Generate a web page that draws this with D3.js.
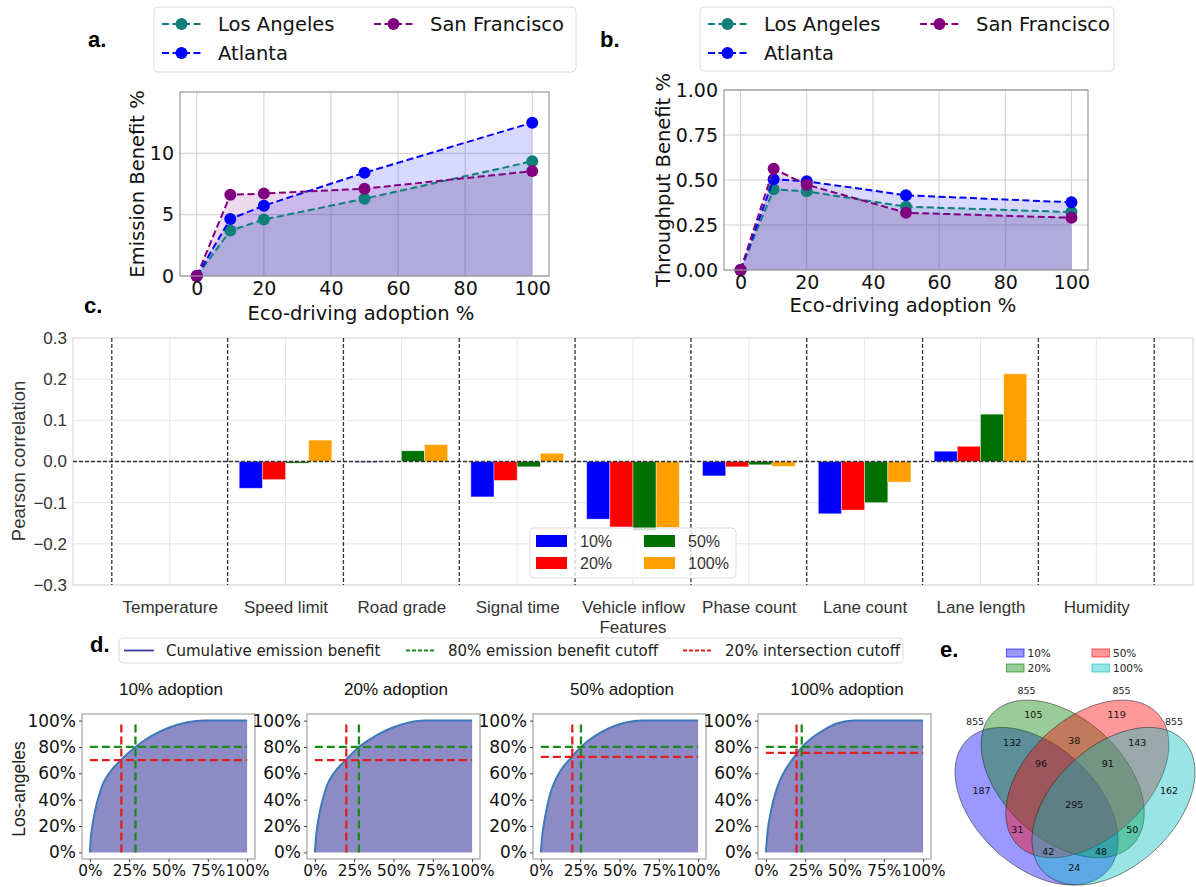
<!DOCTYPE html>
<html><head><meta charset="utf-8">
<script src="https://cdn.jsdelivr.net/npm/d3@7"></script>
<style>body{margin:0;background:#fff} svg{display:block}</style>
</head><body><svg id="c" width="1196" height="887"></svg>
<script>
// ---------------- DATA ----------------
const adoption = [0, 10, 20, 50, 100];
const adoptionTicks = [0, 20, 40, 60, 80, 100];
const cities = ["Los Angeles", "Atlanta", "San Francisco"];
const cityColors = ["#0f7f7a", "#0000ff", "#800080"];
const emissionLA  = [0, 3.7, 4.6, 6.3, 9.35];
const emissionATL = [0, 4.65, 5.73, 8.42, 12.5];
const emissionSF  = [0, 6.62, 6.72, 7.12, 8.55];
const emissionTicks = [0, 5, 10];
const throughputLA  = [0, 0.448, 0.437, 0.352, 0.322];
const throughputATL = [0, 0.504, 0.493, 0.415, 0.376];
const throughputSF  = [0, 0.562, 0.474, 0.318, 0.29];
const throughputTicks = [0, 0.25, 0.5, 0.75, 1.0];

const features = ["Temperature", "Speed limit", "Road grade", "Signal time", "Vehicle inflow", "Phase count", "Lane count", "Lane length", "Humidity"];
const levels = ["10%", "20%", "50%", "100%"];
const levelColors = ["#0000ff", "#ff0000", "#007000", "#ffa000"];
const corr10  = [null, -0.065, -0.002, -0.086, -0.140, -0.035, -0.127, 0.025, null];
const corr20  = [null, -0.044, -0.001, -0.046, -0.159, -0.013, -0.118, 0.037, null];
const corr50  = [null, -0.004,  0.026, -0.013, -0.168, -0.008, -0.100, 0.115, null];
const corr100 = [null,  0.052,  0.041,  0.020, -0.160, -0.012, -0.050, 0.213, null];
const corrTicks = [-0.3, -0.2, -0.1, 0, 0.1, 0.2, 0.3];

const cumTitles = ["10% adoption", "20% adoption", "50% adoption", "100% adoption"];
const cumTicks = [0, 0.25, 0.5, 0.75, 1.0];
const cumYTicks = [0, 0.2, 0.4, 0.6, 0.8, 1.0];
const curve10  = [[0,0],[0.006,0.106],[0.017,0.21],[0.032,0.31],[0.053,0.41],[0.08,0.51],[0.123,0.60],[0.196,0.70],[0.29,0.80],[0.387,0.88],[0.49,0.94],[0.62,0.987],[0.725,1.0],[1.0,1.0]];
const curve20  = [[0,0],[0.006,0.1],[0.017,0.21],[0.032,0.31],[0.052,0.41],[0.078,0.51],[0.12,0.60],[0.195,0.70],[0.28,0.80],[0.38,0.88],[0.48,0.94],[0.6,0.985],[0.7,1.0],[1.0,1.0]];
const curve50  = [[0,0],[0.008,0.12],[0.02,0.22],[0.035,0.32],[0.056,0.43],[0.085,0.53],[0.125,0.62],[0.197,0.725],[0.255,0.80],[0.34,0.88],[0.43,0.94],[0.54,0.985],[0.64,1.0],[1.0,1.0]];
const curve100 = [[0,0],[0.011,0.157],[0.032,0.31],[0.063,0.46],[0.106,0.587],[0.159,0.689],[0.197,0.752],[0.228,0.797],[0.29,0.866],[0.37,0.93],[0.455,0.98],[0.56,1.0],[1.0,1.0]];
const cumCurves = [curve10, curve20, curve50, curve100];
const redCutX   = [0.2, 0.2, 0.2, 0.195];
const redCutY   = [0.70, 0.70, 0.725, 0.755];
const greenCutX = [0.29, 0.28, 0.255, 0.228];
const greenCutY = [0.8, 0.8, 0.8, 0.8];
const cumLegend = ["Cumulative emission benefit", "80% emission benefit cutoff", "20% intersection cutoff"];

const vennSets = ["10%", "20%", "50%", "100%"];
const vennColors = ["#0000ff", "#008000", "#ff0000", "#00bfbf"];
const vennSetSizes = [855, 855, 855, 855];
const vennRegions = ["1000","0100","0010","0001","1100","0110","0011","1110","0111","1111","1010","0101","1011","1101","1001"];
const vennCounts  = [187, 105, 119, 162, 132, 38, 143, 96, 91, 295, 31, 50, 42, 48, 24];

// ---------------- LAYOUT ----------------
const vennRegionPos = [[0.14,0.459],[0.338,0.735],[0.656,0.735],[0.856,0.459],[0.257,0.633],[0.494,0.64],[0.735,0.633],[0.367,0.557],[0.622,0.557],[0.494,0.407],[0.277,0.315],[0.716,0.315],[0.395,0.233],[0.596,0.233],[0.494,0.175]];
const vennSizePos = [[0.115,0.71],[0.312,0.822],[0.675,0.822],[0.875,0.71]];
const vennEllipses = [[0.35,0.4,140],[0.45,0.5,140],[0.544,0.5,40],[0.644,0.4,40]];

const svg = d3.select("#c");
svg.append("rect").attr("width", 1196).attr("height", 887).attr("fill", "#fff");

const DJ = "DejaVu Sans, sans-serif";
const AR = "Liberation Sans, Arial, sans-serif";

// panel letters
[["a.",88,47],["b.",600,47],["c.",84,313],["d.",90,652],["e.",940,657]].forEach(p => {
  svg.append("text").attr("x", p[1]).attr("y", p[2]).text(p[0])
    .attr("font-family", AR).attr("font-weight", "bold").attr("font-size", 22).attr("fill", "#000");
});

// ---------------- PANELS a / b ----------------
function linePanel(cfg) {
  const g = svg.append("g");
  const x = d3.scaleLinear().domain([-5, 105]).range([cfg.x0, cfg.x1]);
  const y = d3.scaleLinear().domain(cfg.ydom).range([cfg.y1, cfg.y0]);
  g.append("g").selectAll("line").data(adoptionTicks).join("line")
    .attr("x1", d => x(d)).attr("x2", d => x(d)).attr("y1", cfg.y0).attr("y2", cfg.y1)
    .attr("stroke", "#d0d0d0").attr("stroke-width", 1);
  g.append("g").selectAll("line").data(cfg.yticks).join("line")
    .attr("x1", cfg.x0).attr("x2", cfg.x1).attr("y1", d => y(d)).attr("y2", d => y(d))
    .attr("stroke", "#d0d0d0").attr("stroke-width", 1);
  cfg.series.forEach((s, i) => {
    const pts = adoption.map((a, j) => [a, s[j]]);
    g.append("path").datum(pts)
      .attr("d", d3.area().x(d => x(d[0])).y0(y(0)).y1(d => y(d[1])))
      .attr("fill", cityColors[i]).attr("fill-opacity", 0.15);
  });
  cfg.series.forEach((s, i) => {
    const pts = adoption.map((a, j) => [a, s[j]]);
    g.append("path").datum(pts)
      .attr("d", d3.line().x(d => x(d[0])).y(d => y(d[1])))
      .attr("fill", "none").attr("stroke", cityColors[i]).attr("stroke-width", 2)
      .attr("stroke-dasharray", "7,3.5");
    g.append("g").selectAll("circle").data(pts).join("circle")
      .attr("cx", d => x(d[0])).attr("cy", d => y(d[1])).attr("r", 6)
      .attr("fill", cityColors[i]);
  });
  g.append("rect").attr("x", cfg.x0).attr("y", cfg.y0).attr("width", cfg.x1 - cfg.x0).attr("height", cfg.y1 - cfg.y0)
    .attr("fill", "none").attr("stroke", "#999").attr("stroke-width", 1.2);
  const ax = g.append("g").attr("transform", `translate(0,${cfg.y1})`)
    .call(d3.axisBottom(x).tickValues(adoptionTicks).tickSize(0).tickPadding(6));
  const ay = g.append("g").attr("transform", `translate(${cfg.x0},0)`)
    .call(d3.axisLeft(y).tickValues(cfg.yticks).tickSize(0).tickPadding(6).tickFormat(cfg.yfmt));
  [ax, ay].forEach(a => {
    a.select(".domain").remove();
    a.selectAll("text").attr("font-family", DJ).attr("font-size", 19).attr("fill", "#111");
  });
  g.append("text").attr("x", (cfg.xlabX)).attr("y", cfg.xlabY).attr("text-anchor", "middle")
    .attr("dominant-baseline", "central").attr("font-family", DJ).attr("font-size", 19.5).attr("fill", "#111")
    .text("Eco-driving adoption %");
  g.append("text").attr("transform", `translate(${cfg.ylabX},${cfg.ylabY}) rotate(-90)`).attr("text-anchor", "middle")
    .attr("dominant-baseline", "central").attr("font-family", DJ).attr("font-size", 19.5).attr("fill", "#111")
    .text(cfg.ylabel);
  const lg = g.append("g");
  lg.append("rect").attr("x", cfg.lx0).attr("y", cfg.ly0).attr("width", cfg.lx1 - cfg.lx0).attr("height", cfg.ly1 - cfg.ly0)
    .attr("rx", 4).attr("fill", "#fff").attr("stroke", "#dcdcdc");
  const slots = [[0, 0], [0, 1], [1, 0]];
  cities.forEach((c, i) => {
    const bx = cfg.lx0 + slots[i][0] * 212;
    const by = cfg.ly0 + 17 + slots[i][1] * 29;
    lg.append("line").attr("x1", bx + 8).attr("x2", bx + 47).attr("y1", by).attr("y2", by)
      .attr("stroke", cityColors[i]).attr("stroke-width", 2).attr("stroke-dasharray", "7,3.5");
    lg.append("circle").attr("cx", bx + 27.5).attr("cy", by).attr("r", 6).attr("fill", cityColors[i]);
    lg.append("text").attr("x", bx + 64).attr("y", by).attr("dominant-baseline", "central")
      .attr("font-family", DJ).attr("font-size", 19.5).attr("fill", "#111").text(c);
  });
}

linePanel({x0: 180, x1: 549, y0: 92, y1: 276, ydom: [0, 15], yticks: emissionTicks, yfmt: d3.format("d"),
  series: [emissionLA, emissionATL, emissionSF], ylabel: "Emission Benefit %",
  xlabX: 361, xlabY: 313, ylabX: 137, ylabY: 184, lx0: 154, lx1: 576, ly0: 7, ly1: 72});
linePanel({x0: 724, x1: 1088, y0: 90, y1: 270, ydom: [0, 1], yticks: throughputTicks, yfmt: d3.format(".2f"),
  series: [throughputLA, throughputATL, throughputSF], ylabel: "Throughput Benefit %",
  xlabX: 903, xlabY: 305, ylabX: 663, ylabY: 180, lx0: 700, lx1: 1114, ly0: 7, ly1: 71});

// ---------------- PANEL c ----------------
(function () {
  const g = svg.append("g");
  const x0 = 73, x1 = 1193, y0 = 338, y1 = 585;
  const x = d3.scaleLinear().domain([-0.835, features.length - 1 + 0.835]).range([x0, x1]);
  const y = d3.scaleLinear().domain([-0.3, 0.3]).range([y1, y0]);
  g.append("g").selectAll("line").data(corrTicks).join("line")
    .attr("x1", x0).attr("x2", x1).attr("y1", d => y(d)).attr("y2", d => y(d)).attr("stroke", "#e6e6e6").attr("stroke-width", 1);
  g.append("g").selectAll("line").data(features).join("line")
    .attr("x1", (d, i) => x(i)).attr("x2", (d, i) => x(i)).attr("y1", y0).attr("y2", y1).attr("stroke", "#e6e6e6").attr("stroke-width", 1);
  g.append("rect").attr("x", x0).attr("y", y0).attr("width", x1 - x0).attr("height", y1 - y0)
    .attr("fill", "none").attr("stroke", "#dedede").attr("stroke-width", 1.2);
  const bw = 0.2;
  [corr10, corr20, corr50, corr100].forEach((arr, k) => {
    const data = arr.map((v, i) => ({v, i})).filter(d => d.v !== null);
    g.append("g").selectAll("rect").data(data).join("rect")
      .attr("x", d => x(d.i + (k - 2) * bw)).attr("width", x(bw) - x(0))
      .attr("y", d => y(Math.max(0, d.v))).attr("height", d => Math.abs(y(d.v) - y(0)))
      .attr("fill", levelColors[k]).attr("stroke", "#fff").attr("stroke-opacity", 0.5).attr("stroke-width", 0.8);
  });
  g.append("line").attr("x1", x0).attr("x2", x1).attr("y1", y(0)).attr("y2", y(0))
    .attr("stroke", "#333").attr("stroke-width", 1.3).attr("stroke-dasharray", "4,2");
  g.append("g").selectAll("line").data(d3.range(features.length + 1)).join("line")
    .attr("x1", d => x(d - 0.5)).attr("x2", d => x(d - 0.5)).attr("y1", y0).attr("y2", y1)
    .attr("stroke", "#333").attr("stroke-width", 1.3).attr("stroke-dasharray", "4,2");
  const ax = g.append("g").attr("transform", `translate(0,${y1})`)
    .call(d3.axisBottom(x).tickValues(d3.range(features.length)).tickFormat(i => features[i]).tickSize(0).tickPadding(16));
  const ay = g.append("g").attr("transform", `translate(${x0},0)`)
    .call(d3.axisLeft(y).tickValues(corrTicks).tickFormat(d => d3.format(".1f")(d).replace("-", "\u2212")).tickSize(0).tickPadding(6));
  [ax, ay].forEach(a => {
    a.select(".domain").remove();
    a.selectAll("text").attr("font-family", AR).attr("font-size", 17).attr("fill", "#333");
  });
  g.append("text").attr("x", 633).attr("y", 627).attr("text-anchor", "middle").attr("dominant-baseline", "central")
    .attr("font-family", AR).attr("font-size", 17).attr("fill", "#333").text("Features");
  g.append("text").attr("transform", "translate(18,461) rotate(-90)").attr("text-anchor", "middle").attr("dominant-baseline", "central")
    .attr("font-family", AR).attr("font-size", 18.5).attr("fill", "#333").text("Pearson correlation");
  const lg = g.append("g");
  lg.append("rect").attr("x", 530).attr("y", 528).attr("width", 206).attr("height", 50).attr("rx", 4)
    .attr("fill", "#fff").attr("fill-opacity", 0.8).attr("stroke", "#dcdcdc");
  levels.forEach((l, k) => {
    const cx = 536 + Math.floor(k / 2) * 108;
    const cy = 541 + (k % 2) * 22;
    lg.append("rect").attr("x", cx).attr("y", cy - 6).attr("width", 31).attr("height", 12).attr("fill", levelColors[k]);
    lg.append("text").attr("x", cx + 44).attr("y", cy).attr("dominant-baseline", "central")
      .attr("font-family", AR).attr("font-size", 16).attr("fill", "#333").text(l);
  });
})();

// ---------------- PANEL d ----------------
(function () {
  const g = svg.append("g");
  g.append("rect").attr("x", 119).attr("y", 638).attr("width", 784).attr("height", 25).attr("rx", 4)
    .attr("fill", "#fff").attr("stroke", "#dcdcdc");
  const legX = [124, 406, 683], legCol = ["#3b3b98", "#1a8a1a", "#e02020"], legDash = [null, "4,2", "4,2"];
  cumLegend.forEach((t, i) => {
    g.append("line").attr("x1", legX[i]).attr("x2", legX[i] + 30).attr("y1", 650.5).attr("y2", 650.5)
      .attr("stroke", legCol[i]).attr("stroke-width", 1.8).attr("stroke-dasharray", legDash[i]);
    g.append("text").attr("x", legX[i] + 42).attr("y", 650.5).attr("dominant-baseline", "central")
      .attr("font-family", DJ).attr("font-size", 15).attr("fill", "#222").text(t);
  });
  g.append("text").attr("transform", "translate(19,789) rotate(-90)").attr("text-anchor", "middle").attr("dominant-baseline", "central")
    .attr("font-family", AR).attr("font-size", 17.5).attr("fill", "#222").text("Los-angeles");
  const left = [82, 307, 533, 758];
  cumCurves.forEach((curve, j) => {
    const x0 = left[j], x1 = x0 + 173, y0 = 714, y1 = 859;
    const x = d3.scaleLinear().domain([-0.05, 1.05]).range([x0, x1]);
    const y = d3.scaleLinear().domain([-0.05, 1.05]).range([y1, y0]);
    const sg = g.append("g");
    sg.append("path").datum(curve).attr("d", d3.area().x(d => x(d[0])).y0(y(0)).y1(d => y(d[1])).curve(d3.curveMonotoneX))
      .attr("fill", "#8d8bc6");
    sg.append("path").datum(curve).attr("d", d3.line().x(d => x(d[0])).y(d => y(d[1])).curve(d3.curveMonotoneX))
      .attr("fill", "none").attr("stroke", "#3d7ab8").attr("stroke-width", 2);
    const dash = "8,4";
    sg.append("line").attr("x1", x(0)).attr("x2", x(1)).attr("y1", y(greenCutY[j])).attr("y2", y(greenCutY[j]))
      .attr("stroke", "#1a8a1a").attr("stroke-width", 2.3).attr("stroke-dasharray", dash);
    sg.append("line").attr("x1", x(greenCutX[j])).attr("x2", x(greenCutX[j])).attr("y1", y(0)).attr("y2", y(0.97))
      .attr("stroke", "#1a8a1a").attr("stroke-width", 2.3).attr("stroke-dasharray", dash);
    sg.append("line").attr("x1", x(0)).attr("x2", x(1)).attr("y1", y(redCutY[j])).attr("y2", y(redCutY[j]))
      .attr("stroke", "#e02020").attr("stroke-width", 2.3).attr("stroke-dasharray", dash);
    sg.append("line").attr("x1", x(redCutX[j])).attr("x2", x(redCutX[j])).attr("y1", y(0)).attr("y2", y(0.97))
      .attr("stroke", "#e02020").attr("stroke-width", 2.3).attr("stroke-dasharray", dash);
    sg.append("rect").attr("x", x0).attr("y", y0).attr("width", x1 - x0).attr("height", y1 - y0)
      .attr("fill", "none").attr("stroke", "#aaa").attr("stroke-width", 1.3);
    const ax = sg.append("g").attr("transform", `translate(0,${y1})`)
      .call(d3.axisBottom(x).tickValues(cumTicks).tickFormat(d3.format(".0%")).tickSize(3).tickPadding(3));
    const ay = sg.append("g").attr("transform", `translate(${x0},0)`)
      .call(d3.axisLeft(y).tickValues(cumYTicks).tickFormat(d3.format(".0%")).tickSize(3).tickPadding(3));
    ax.selectAll("text").attr("font-size", 15.3);
    ay.selectAll("text").attr("font-size", 17);
    [ax, ay].forEach(a => {
      a.select(".domain").remove();
      a.selectAll("line").attr("stroke", "#444");
      a.selectAll("text").attr("font-family", DJ).attr("fill", "#111");
    });
    sg.append("text").attr("x", x0 + 89).attr("y", 689).attr("text-anchor", "middle").attr("dominant-baseline", "central")
      .attr("font-family", AR).attr("font-size", 17).attr("fill", "#111").text(cumTitles[j]);
  });
})();

// ---------------- PANEL e ----------------
(function () {
  const g = svg.append("g");
  const vx = d3.scaleLinear().domain([0, 1]).range([944.9, 1206.7]);
  const vy = d3.scaleLinear().domain([0, 1]).range([915.4, 642.4]);
  const a = 0.36, b = 0.225;
  const ts = d3.range(0, 2 * Math.PI + 0.001, Math.PI / 90);
  vennEllipses.forEach((e, i) => {
    const th = e[2] * Math.PI / 180;
    const pts = ts.map(t => [e[0] + a * Math.cos(t) * Math.cos(th) - b * Math.sin(t) * Math.sin(th),
                             e[1] + a * Math.cos(t) * Math.sin(th) + b * Math.sin(t) * Math.cos(th)]);
    g.append("path").datum(pts).attr("d", d3.line().x(d => vx(d[0])).y(d => vy(d[1])))
      .attr("fill", vennColors[i]).attr("fill-opacity", 0.4)
      .attr("stroke", "#222").attr("stroke-opacity", 0.55).attr("stroke-width", 1);
  });
  vennCounts.forEach((c, i) => {
    g.append("text").attr("x", vx(vennRegionPos[i][0])).attr("y", vy(vennRegionPos[i][1]))
      .attr("text-anchor", "middle").attr("dominant-baseline", "central")
      .attr("font-family", DJ).attr("font-size", 9.5).attr("fill", "#111").text(c);
  });
  vennSetSizes.forEach((c, i) => {
    g.append("text").attr("x", vx(vennSizePos[i][0])).attr("y", vy(vennSizePos[i][1]))
      .attr("text-anchor", "middle").attr("dominant-baseline", "central")
      .attr("font-family", DJ).attr("font-size", 9.5).attr("fill", "#222").text(c);
  });
  [0, 1, 2, 3].forEach(k => {
    const lx = 1006.5 + Math.floor(k / 2) * 85.5;
    const ly = 653 + (k % 2) * 15;
    g.append("rect").attr("x", lx).attr("y", ly - 4).attr("width", 17.5).attr("height", 8)
      .attr("fill", vennColors[k]).attr("fill-opacity", 0.4).attr("stroke", vennColors[k]).attr("stroke-opacity", 0.6);
    g.append("text").attr("x", lx + 21).attr("y", ly).attr("dominant-baseline", "central")
      .attr("font-family", DJ).attr("font-size", 10.5).attr("fill", "#222").text(vennSets[k]);
  });
})();
</script></body></html>
